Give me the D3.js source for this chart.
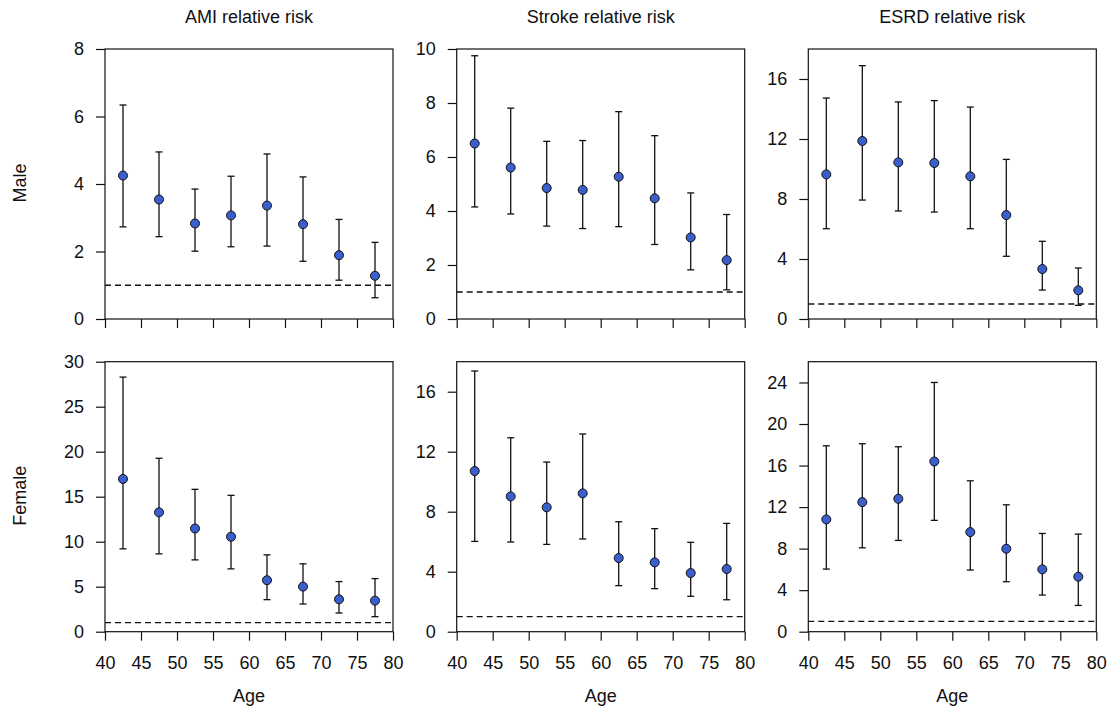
<!DOCTYPE html>
<html>
<head>
<meta charset="utf-8">
<script src="https://cdn.jsdelivr.net/npm/d3@7"></script>
<style>
  body { margin: 0; background: #fff; }
  text { font-family: "Liberation Sans", Arial, sans-serif; fill: #111; }
</style>
</head>
<body>
<div id="chart"></div>
<script>
// age-group midpoints (x positions)
let ages = [42.5, 47.5, 52.5, 57.5, 62.5, 67.5, 72.5, 77.5];
let xTicks = [40, 45, 50, 55, 60, 65, 70, 75, 80];

let outcomes = ["AMI relative risk", "Stroke relative risk", "ESRD relative risk"];
let sexes = ["Male", "Female"];

// Male
let amiMaleEst = [4.25, 3.54, 2.83, 3.07, 3.36, 2.81, 1.89, 1.28];
let amiMaleLo  = [2.73, 2.44, 2.01, 2.14, 2.16, 1.71, 1.15, 0.63];
let amiMaleHi  = [6.34, 4.95, 3.85, 4.23, 4.89, 4.21, 2.95, 2.27];

let strokeMaleEst = [6.50, 5.61, 4.85, 4.78, 5.27, 4.47, 3.02, 2.18];
let strokeMaleLo  = [4.15, 3.89, 3.44, 3.35, 3.42, 2.76, 1.82, 1.08];
let strokeMaleHi  = [9.75, 7.81, 6.58, 6.61, 7.68, 6.79, 4.67, 3.87];

let esrdMaleEst = [9.64, 11.87, 10.44, 10.40, 9.51, 6.93, 3.33, 1.91];
let esrdMaleLo  = [6.02, 7.93, 7.20, 7.13, 6.02, 4.18, 1.93, 0.91];
let esrdMaleHi  = [14.73, 16.89, 14.47, 14.56, 14.13, 10.64, 5.18, 3.40];

// Female
let amiFemaleEst = [16.97, 13.26, 11.47, 10.55, 5.72, 5.01, 3.60, 3.45];
let amiFemaleLo  = [9.21, 8.65, 7.98, 6.98, 3.56, 3.08, 2.08, 1.67];
let amiFemaleHi  = [28.29, 19.27, 15.82, 15.15, 8.54, 7.54, 5.57, 5.90];

let strokeFemaleEst = [10.71, 9.02, 8.29, 9.22, 4.91, 4.62, 3.91, 4.18];
let strokeFemaleLo  = [6.02, 5.98, 5.82, 6.18, 3.07, 2.87, 2.36, 2.13];
let strokeFemaleHi  = [17.38, 12.93, 11.31, 13.18, 7.33, 6.87, 5.96, 7.22];

let esrdFemaleEst = [10.81, 12.48, 12.80, 16.39, 9.59, 7.99, 6.00, 5.29];
let esrdFemaleLo  = [6.03, 8.08, 8.79, 10.72, 5.94, 4.81, 3.53, 2.53];
let esrdFemaleHi  = [17.90, 18.10, 17.81, 24.00, 14.53, 12.22, 9.46, 9.40];

// y axis ranges and ticks per panel
let yMax = [[8, 10, 18], [30, 18, 26]];
let yTicks = [
  [[0, 2, 4, 6, 8], [0, 2, 4, 6, 8, 10], [0, 4, 8, 12, 16]],
  [[0, 5, 10, 15, 20, 25, 30], [0, 4, 8, 12, 16], [0, 4, 8, 12, 16, 20, 24]]
];
let refLine = 1;

let panelData = [
  [[amiMaleEst, amiMaleLo, amiMaleHi], [strokeMaleEst, strokeMaleLo, strokeMaleHi], [esrdMaleEst, esrdMaleLo, esrdMaleHi]],
  [[amiFemaleEst, amiFemaleLo, amiFemaleHi], [strokeFemaleEst, strokeFemaleLo, strokeFemaleHi], [esrdFemaleEst, esrdFemaleLo, esrdFemaleHi]]
];

let width = 1110, height = 707;
let colLeft = [105, 456.7, 808.3];
let rowTop = [49, 361.7];
let pw = 288, ph = 270;
let tick = 9;
let fs = "18px";

let svg = d3.select("#chart").append("svg")
  .attr("width", width)
  .attr("height", height);

let lineCol = "#111";

for (let r = 0; r < 2; r++) {
  for (let c = 0; c < 3; c++) {
    let g = svg.append("g")
      .attr("transform", `translate(${colLeft[c]}, ${rowTop[r]})`);

    let x = d3.scaleLinear().domain([40, 80]).range([0, pw]);
    let y = d3.scaleLinear().domain([0, yMax[r][c]]).range([ph, 0]);

    // x axis
    let xAxis = d3.axisBottom(x).tickValues(xTicks).tickSize(tick).tickPadding(16);
    if (r == 0) xAxis.tickFormat("");
    let xa = g.append("g").attr("transform", `translate(0, ${ph})`).call(xAxis);

    // y axis
    let ya = g.append("g").call(d3.axisLeft(y).tickValues(yTicks[r][c]).tickSize(tick).tickPadding(12));

    [xa, ya].forEach(function(a) {
      a.select(".domain").remove();
      a.selectAll("line").attr("stroke", lineCol).attr("stroke-width", 1.2);
      a.selectAll("text").style("font-size", fs).attr("fill", "#111");
    });

    // box
    g.append("rect")
      .attr("x", 0).attr("y", 0)
      .attr("width", pw).attr("height", ph)
      .attr("fill", "none")
      .attr("stroke", lineCol)
      .attr("stroke-width", 1.2);

    // reference line at RR = 1
    g.append("line")
      .attr("x1", 0).attr("x2", pw)
      .attr("y1", y(refLine)).attr("y2", y(refLine))
      .attr("stroke", lineCol)
      .attr("stroke-width", 1.3)
      .attr("stroke-dasharray", "6,4");

    let est = panelData[r][c][0], lo = panelData[r][c][1], hi = panelData[r][c][2];
    let pts = ages.map(function(a, i) { return {age: a, est: est[i], lo: lo[i], hi: hi[i]}; });

    let bars = g.selectAll(".bar").data(pts).enter().append("g").attr("class", "bar");
    bars.append("line")
      .attr("x1", function(d) { return x(d.age); })
      .attr("x2", function(d) { return x(d.age); })
      .attr("y1", function(d) { return y(d.lo); })
      .attr("y2", function(d) { return y(d.hi); });
    bars.append("line")
      .attr("x1", function(d) { return x(d.age) - 3.5; })
      .attr("x2", function(d) { return x(d.age) + 3.5; })
      .attr("y1", function(d) { return y(d.hi); })
      .attr("y2", function(d) { return y(d.hi); });
    bars.append("line")
      .attr("x1", function(d) { return x(d.age) - 3.5; })
      .attr("x2", function(d) { return x(d.age) + 3.5; })
      .attr("y1", function(d) { return y(d.lo); })
      .attr("y2", function(d) { return y(d.lo); });
    bars.selectAll("line").attr("stroke", lineCol).attr("stroke-width", 1.3);

    g.selectAll("circle").data(pts).enter().append("circle")
      .attr("cx", function(d) { return x(d.age); })
      .attr("cy", function(d) { return y(d.est); })
      .attr("r", 4.5)
      .attr("fill", "#3a5fcd")
      .attr("stroke", "#111")
      .attr("stroke-width", 1);

    if (r == 0) {
      g.append("text")
        .attr("x", pw / 2).attr("y", -26)
        .attr("text-anchor", "middle")
        .style("font-size", fs)
        .text(outcomes[c]);
    }
    if (r == 1) {
      g.append("text")
        .attr("x", pw / 2).attr("y", ph + 70)
        .attr("text-anchor", "middle")
        .style("font-size", fs)
        .text("Age");
    }
    if (c == 0) {
      g.append("text")
        .attr("transform", `translate(${20 - colLeft[0]}, ${ph / 2 - 1}) rotate(-90)`)
        .attr("text-anchor", "middle")
        .attr("dy", "0.35em")
        .style("font-size", fs)
        .text(sexes[r]);
    }
  }
}
</script>
</body>
</html>
